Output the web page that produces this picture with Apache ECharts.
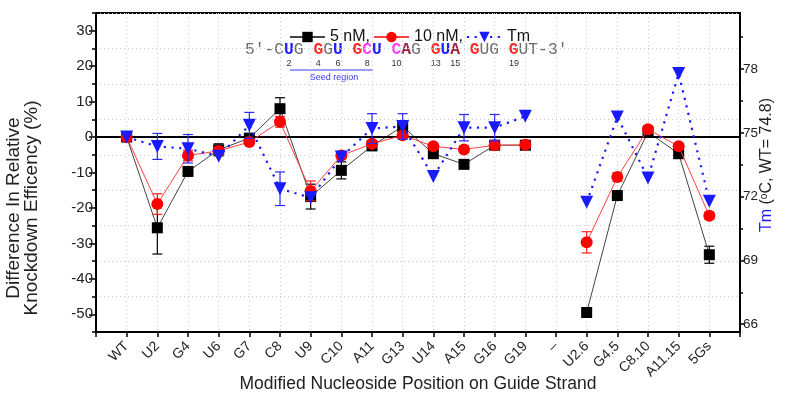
<!DOCTYPE html>
<html><head><meta charset="utf-8">
<script src="https://cdn.jsdelivr.net/npm/echarts@6/dist/echarts.min.js"></script>
<style>html,body{margin:0;padding:0;background:#fff}#c{width:788px;height:399px}</style>
</head><body><div id="c"></div>
<script>
const categories = ['WT','U2','G4','U6','G7','C8','U9','C10','A11','G13','U14','A15','G16','G19','–','U2.6','G4.5','C8.10','A11.15','5Gs'];
const knock5    = [0, -25.6, -9.7, -3.6, -0.3, 8.0, -16.8, -9.4, -2.5, 3.0, -4.7, -7.7, -2.3, -2.3, null, -49.5, -16.5, 1.4, -4.7, -33.2];
const knock5Err = [0.5, 7.4, 1.0, 1.7, 1.0, 3.1, 3.5, 2.4, 1.0, 1.5, 1.0, 1.0, 1.0, 1.0, null, 0.8, 1.0, 1.0, 1.0, 2.4];
const knock10    = [0, -18.9, -5.2, -3.9, -1.4, 4.3, -15.2, -5.2, -1.9, 0.5, -2.6, -3.5, -2.3, -2.2, null, -29.7, -11.3, 2.2, -2.6, -22.2];
const knock10Err = [0.5, 2.9, 1.5, 1.0, 0.8, 1.5, 2.8, 1.0, 0.8, 0.8, 0.8, 0.8, 0.8, 0.8, null, 3.0, 1.2, 1.0, 0.8, 1.0];
const tm    = [74.8, 74.36, 74.25, 73.9, 75.35, 72.37, 71.95, 73.86, 75.2, 75.3, 72.95, 75.24, 75.24, 75.78, null, 71.73, 75.74, 72.88, 77.79, 71.78];
const tmErr = [0, 0.61, 0.67, 0, 0.61, 0.79, 0, 0, 0.7, 0.6, 0, 0.62, 0.62, 0, null, 0, 0, 0, 0, 0];
const leftTicks = [-50, -40, -30, -20, -10, 0, 10, 20, 30];
const rightTicks = [66, 69, 72, 75, 78];
const rightMinorTicks = [67.5, 70.5, 73.5, 76.5, 79.5];
const seedPositions = [2, 4, 6, 8, 10, 13, 15, 19];
const tmWT = 74.8;

const FONT = 'Liberation Sans';
const MONO = 'Liberation Mono';
const leftMin = -55, leftMax = 35;
const rMin = tmWT + leftMin / 6, rMax = tmWT + leftMax / 6;

function pts(vals){ return vals.map((v,i)=>[i, v == null ? '-' : v]); }
function errSeries(name, vals, errs, color, yAxisIndex, z){
  const data = [];
  vals.forEach((v,i)=>{ if (v != null && errs[i] > 0) data.push([i, v - errs[i], v + errs[i]]); });
  return {
    type:'custom', name: name, yAxisIndex: yAxisIndex, z: z, silent: true,
    encode:{x:0, y:[1,2]}, data: data,
    renderItem: function(params, api){
      const x = api.value(0);
      const lo = api.coord([x, api.value(1)]);
      const hi = api.coord([x, api.value(2)]);
      const hw = 5;
      const st = {stroke: color, lineWidth: 1.2};
      return {type:'group', children:[
        {type:'line', shape:{x1:lo[0], y1:lo[1], x2:hi[0], y2:hi[1]}, style: st},
        {type:'line', shape:{x1:lo[0]-hw, y1:lo[1], x2:lo[0]+hw, y2:lo[1]}, style: st},
        {type:'line', shape:{x1:hi[0]-hw, y1:hi[1], x2:hi[0]+hw, y2:hi[1]}, style: st}
      ]};
    }
  };
}

// sequence rich text
const seqRich = "{g|5'-C}{b|U}{g|G} {r|G}{g|G}{b|U} {r|G}{m|C}{b|U} {m|C}{a|A}{g|G} {r|G}{b|U}{a|A} {r|G}{g|UG} {r|G}{g|UT-3'}";
const seqX = 245, seqY = 50, seqFont = 16.3, charW = seqFont * 0.6;
const graphics = [
  {type:'text', x:23, y:208, rotation:Math.PI/2, style:{text:'Difference In Relative\nKnockdown Efficency (%)', fontSize:19, fontFamily:FONT, fill:'#222', align:'center', verticalAlign:'middle', lineHeight:18}},
  {type:'text', x:767, y:165, rotation:Math.PI/2, style:{text:'{b|Tm} ({s|o}C, WT= 74.8)', fontSize:16, fontFamily:FONT, fill:'#222', align:'center', verticalAlign:'middle',
    rich:{b:{fill:'#1a1aff', fontSize:16, fontFamily:FONT}, s:{fontSize:10, fontFamily:FONT, fill:'#222', verticalAlign:'top'}}}},
  {type:'text', x:seqX, y:seqY, style:{text:seqRich, fontSize:seqFont, fontFamily:MONO, fill:'#666', align:'left', verticalAlign:'middle',
    rich:{
      g:{fontSize:seqFont, fontFamily:MONO, fill:'#6b6b6b'},
      b:{fontSize:seqFont, fontFamily:MONO, fill:'#1f1fff', fontWeight:'bold'},
      r:{fontSize:seqFont, fontFamily:MONO, fill:'#ff2a2a', fontWeight:'bold'},
      m:{fontSize:seqFont, fontFamily:MONO, fill:'#ff3cff', fontWeight:'bold'},
      a:{fontSize:seqFont, fontFamily:MONO, fill:'#a3213f', fontWeight:'bold'}
    }}},
  {type:'line', shape:{x1:290, y1:70, x2:373, y2:70}, style:{stroke:'#7a7aff', lineWidth:1.5}},
  {type:'text', x:334, y:78, style:{text:'Seed region', fontSize:9, fontFamily:FONT, fill:'#3a3aff', align:'center', verticalAlign:'middle'}}
];
seedPositions.forEach(p=>{
  const idx = 3 + (p - 1) + Math.floor((p - 1) / 3);
  graphics.push({type:'text', x: seqX + (idx + 0.5) * charW, y: 64, style:{text:String(p), fontSize:9, fontFamily:FONT, fill:'#333', align:'center', verticalAlign:'middle'}});
});

const chart = echarts.init(document.getElementById('c'), null, {renderer:'canvas'});
chart.setOption({
  animation:false,
  backgroundColor:'#fff',
  grid:{left:96, right:48, top:13, bottom:67, show:true, borderColor:'#000', borderWidth:2, backgroundColor:'transparent',
    containLabel:false, outerBoundsMode:'none'},
  legend:{data:['5 nM,','10 nM,','Tm'], left:284, top:24, itemWidth:35, itemHeight:13, itemGap:3,
    textStyle:{fontSize:16, fontFamily:FONT, color:'#111'}},
  xAxis:[{
    type:'value', min:-1, max:20, interval:1,
    axisLine:{show:true, onZero:false, lineStyle:{color:'#000', width:2}},
    axisTick:{show:true, length:5, lineStyle:{color:'#000', width:1.5}},
    axisLabel:{rotate:45, fontSize:14, fontFamily:FONT, color:'#222', margin:12,
      formatter: v => (categories[v] !== undefined ? categories[v] : '')},
    splitLine:{show:true, lineStyle:{type:[1,3], color:'#c8c8c8', width:1}},
    name:'Modified Nucleoside Position on Guide Strand', nameLocation:'middle', nameGap:43, nameMoveOverlap:false,
    nameTextStyle:{fontSize:17.5, fontFamily:FONT, color:'#222'}
  }],
  yAxis:[
    {type:'value', min:leftMin, max:leftMax, interval:10, position:'left',
      axisLine:{show:true, onZero:false, lineStyle:{color:'#000', width:2}},
      axisTick:{show:true, length:4, lineStyle:{color:'#000', width:1.5}},
      axisLabel:{show:false},
      splitLine:{show:true, lineStyle:{type:[1,3], color:'#c8c8c8', width:1}}},
    {type:'value', min:leftMin, max:leftMax, position:'left',
      axisLine:{show:true, onZero:false, lineStyle:{color:'#000', width:2}},
      axisTick:{show:true, length:7, customValues:leftTicks, lineStyle:{color:'#000', width:1.5}},
      axisLabel:{show:true, customValues:leftTicks, fontSize:15, fontFamily:FONT, color:'#222', margin:3},
      splitLine:{show:false}},
    {type:'value', min:rMin, max:rMax, position:'right',
      axisLine:{show:true, onZero:false, lineStyle:{color:'#000', width:2}},
      axisTick:{show:true, length:4, customValues:rightTicks, lineStyle:{color:'#000', width:1.5}},
      axisLabel:{show:true, customValues:rightTicks, fontSize:13.5, fontFamily:FONT, color:'#222', margin:3},
      splitLine:{show:false}},
    {type:'value', min:rMin, max:rMax, position:'right',
      axisLine:{show:true, onZero:false, lineStyle:{color:'#000', width:2}},
      axisTick:{show:true, length:3, customValues:rightMinorTicks, lineStyle:{color:'#000', width:1.5}},
      axisLabel:{show:false}, splitLine:{show:false}}
  ],
  graphic: graphics,
  series:[
    errSeries('e5', knock5, knock5Err, '#000', 0, 2),
    {name:'5 nM,', type:'line', yAxisIndex:0, z:3, data:pts(knock5), connectNulls:false,
      symbol:'rect', symbolSize:11, itemStyle:{color:'#000'}, lineStyle:{color:'#444', width:1},
      markLine:{silent:true, symbol:'none', label:{show:false}, data:[{yAxis:0}], lineStyle:{color:'#000', width:2, type:'solid'}}},
    errSeries('e10', knock10, knock10Err, '#ff2020', 0, 4),
    {name:'10 nM,', type:'line', yAxisIndex:0, z:5, data:pts(knock10), connectNulls:false,
      symbol:'circle', symbolSize:12, itemStyle:{color:'#ff0000'}, lineStyle:{color:'#ff4040', width:1}},
    errSeries('etm', tm, tmErr, '#2a2aff', 2, 6),
    {name:'Tm', type:'line', yAxisIndex:2, z:7, data:pts(tm), connectNulls:false,
      symbol:'triangle', symbolRotate:180, symbolSize:13, itemStyle:{color:'#1a1aff'},
      lineStyle:{color:'#1a1aff', width:2.2, type:[2.2,5.5], cap:'butt'}}
  ]
});
</script></body></html>
